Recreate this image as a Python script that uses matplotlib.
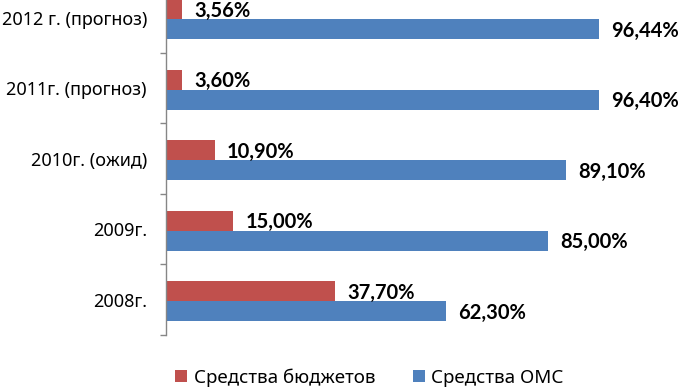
import matplotlib
matplotlib.use("Agg")
import matplotlib.pyplot as plt
import numpy as np

# Данные (снизу вверх, как на диаграмме)
categories = ["2008г.", "2009г.", "2010г. (ожид)", "2011г. (прогноз)", "2012 г. (прогноз)"]
budget = [37.70, 15.00, 10.90, 3.60, 3.56]
oms = [62.30, 85.00, 89.10, 96.40, 96.44]
series_names = ["Средства бюджетов", "Средства ОМС"]

colors = {"budget": "#C0504D", "oms": "#4F81BD"}

plt.rcParams['font.family'] = ['Noto Sans', 'DejaVu Sans']

fig = plt.figure(figsize=(6.84, 3.87), dpi=100)
ax = fig.add_axes([0.2427, 0.1344, 0.6570, 0.9109])

y = np.arange(len(categories)) - 0.02  # группа чуть ниже центра категории, как в Excel
h = 0.284

bars_b = ax.barh(y + h / 2, budget, height=h, color=colors["budget"], label=series_names[0])
bars_o = ax.barh(y - h / 2, oms, height=h, color=colors["oms"], label=series_names[1])

def fmt(v):
    return f"{v:.2f}".replace('.', ',') + '%'

for bars, vals in [(bars_b, budget), (bars_o, oms)]:
    for b, v in zip(bars, vals):
        ax.annotate(fmt(v), xy=(b.get_width(), b.get_y() + b.get_height() / 2),
                    xytext=(8.6, -1.2), textcoords='offset points',
                    ha='left', va='center', fontsize=14.5, fontweight='bold',
                    family=['Lato', 'DejaVu Sans'], color='black',
                    annotation_clip=False, clip_on=False)

ax.set_xlim(0, 100)
ax.set_ylim(-0.5, len(categories) - 0.5)

# оси в стиле Excel
for s in ['top', 'right', 'bottom']:
    ax.spines[s].set_visible(False)
ax.spines['left'].set_color('#868686')
ax.spines['left'].set_linewidth(1.0)
ax.set_xticks([])

ax.set_yticks(np.arange(len(categories)))
ax.set_yticklabels(categories, fontsize=13)
ax.tick_params(axis='y', which='major', length=0, pad=13.7)
ax.set_yticks(np.arange(-0.5, len(categories), 1), minor=True)
ax.tick_params(axis='y', which='minor', length=4, color='#868686', width=1.0)

fig.legend(handles=[bars_b, bars_o], loc='center', bbox_to_anchor=(0.54, 0.025),
           ncol=2, frameon=False, fontsize=13.5, handlelength=0.65, handleheight=0.65,
           handletextpad=0.35, columnspacing=2.0, borderaxespad=0)

fig.savefig("out.png", dpi=100)
